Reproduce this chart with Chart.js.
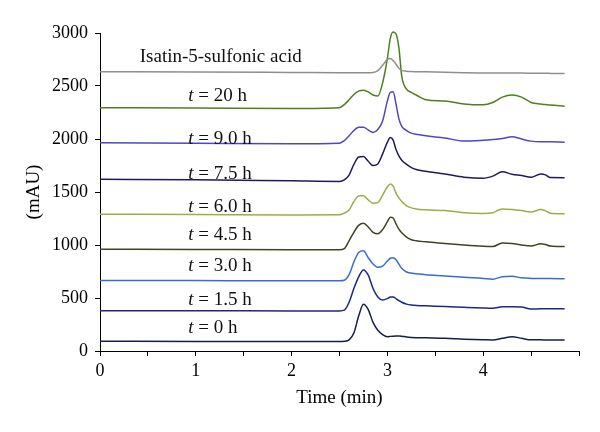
<!DOCTYPE html>
<html>
<head>
<meta charset="utf-8">
<script src="https://cdn.jsdelivr.net/npm/chart.js@4.4.1/dist/chart.umd.min.js"></script>
<style>
  body { margin: 0; background: #fff; }
</style>
</head>
<body>
<canvas id="chart" width="600" height="432"></canvas>
<script>
// retention time (min), shared by every trace
const times = [0, 1.0, 2.0, 2.5, 2.55, 2.6, 2.65, 2.7, 2.75, 2.8, 2.85, 2.9, 2.95, 3.0, 3.03, 3.06, 3.09, 3.12, 3.15, 3.2, 3.25, 3.3, 3.4, 3.6, 3.8, 4.0, 4.1, 4.2, 4.3, 4.4, 4.5, 4.6, 4.65, 4.7, 4.85];

// absorbance (mAU), one array per trace, top to bottom
const isatin = [2635, 2632, 2628, 2626, 2626, 2625, 2625, 2625, 2625, 2625, 2627, 2645, 2695, 2752, 2760, 2740, 2705, 2668, 2648, 2640, 2637, 2635, 2634, 2630, 2625, 2622, 2622, 2622, 2622, 2622, 2621, 2620, 2620, 2619, 2618];
const h20 = [2295, 2292, 2288, 2295, 2325, 2370, 2420, 2452, 2460, 2445, 2415, 2405, 2530, 2760, 2950, 3010, 2990, 2860, 2590, 2470, 2440, 2415, 2370, 2358, 2330, 2322, 2345, 2395, 2415, 2395, 2345, 2330, 2325, 2320, 2310];
const h9 = [1965, 1960, 1955, 1960, 1985, 2030, 2080, 2110, 2112, 2085, 2062, 2090, 2170, 2360, 2440, 2445, 2330, 2190, 2120, 2080, 2055, 2045, 2030, 2010, 1980, 1988, 1995, 2005, 2022, 2000, 1980, 1975, 1975, 1973, 1970];
const h75 = [1620, 1615, 1605, 1600, 1615, 1660, 1760, 1830, 1835, 1790, 1750, 1765, 1860, 1970, 2015, 1990, 1900, 1840, 1800, 1760, 1730, 1712, 1695, 1670, 1640, 1630, 1650, 1690, 1668, 1655, 1640, 1670, 1662, 1636, 1635];
const h6 = [1290, 1287, 1283, 1285, 1300, 1330, 1410, 1462, 1465, 1425, 1395, 1400, 1470, 1550, 1575, 1555, 1490, 1445, 1410, 1370, 1350, 1340, 1332, 1325, 1305, 1298, 1305, 1340, 1335, 1325, 1312, 1335, 1322, 1300, 1295];
const h45 = [960, 958, 955, 955, 965, 1040, 1120, 1185, 1205, 1170, 1120, 1105, 1145, 1220, 1262, 1255, 1200, 1150, 1115, 1075, 1050, 1040, 1030, 1015, 1000, 988, 985, 1020, 1015, 1000, 990, 1012, 1005, 990, 985];
const h3 = [665, 664, 663, 663, 668, 720, 840, 930, 945, 880, 820, 790, 800, 850, 875, 880, 860, 820, 780, 745, 735, 728, 720, 708, 695, 685, 678, 700, 705, 690, 685, 684, 684, 683, 682];
const h15 = [380, 380, 378, 378, 385, 460, 590, 700, 765, 715, 590, 510, 482, 495, 510, 510, 495, 475, 460, 442, 433, 430, 426, 420, 412, 405, 403, 418, 418, 415, 396, 398, 398, 398, 399];
const h0 = [92, 90, 90, 90, 92, 105, 170, 330, 440, 390, 270, 195, 155, 135, 138, 140, 141, 141, 140, 132, 128, 126, 124, 120, 112, 106, 104, 120, 135, 120, 105, 105, 104, 104, 104];

const traces = [isatin, h20, h9, h75, h6, h45, h3, h15, h0];
const traceColors = ['#8e8e8e', '#4f7f1f', '#5046c0', '#1e1b5a', '#a0ab45', '#3d4522', '#3a6cd0', '#1c2787', '#161d4d'];

// text labels over each trace: [italic part, rest], anchor time, anchor mAU
const labelTexts = [['', 'Isatin-5-sulfonic acid'], ['t', ' = 20 h'], ['t', ' = 9.0 h'], ['t', ' = 7.5 h'], ['t', ' = 6.0 h'], ['t', ' = 4.5 h'], ['t', ' = 3.0 h'], ['t', ' = 1.5 h'], ['t', ' = 0 h']];
const labelTime = [1.26, 0.92, 0.92, 0.92, 0.92, 0.92, 0.92, 0.92, 0.92];
const labelValue = [2777, 2406, 2000, 1670, 1361, 1094, 802, 481, 220];

const serif = '"Liberation Serif", "DejaVu Serif", serif';

const traceLabels = {
  id: 'traceLabels',
  afterDatasetsDraw(chart) {
    const { ctx, scales } = chart;
    ctx.save();
    ctx.fillStyle = '#111';
    ctx.textBaseline = 'middle';
    labelTexts.forEach((parts, i) => {
      const y = scales.y.getPixelForValue(labelValue[i]);
      let x = scales.x.getPixelForValue(labelTime[i]);
      if (parts[0] === '') {
        ctx.font = '19px ' + serif;
        ctx.textAlign = 'center';
        ctx.fillText(parts[1], x, y);
        return;
      }
      ctx.textAlign = 'left';
      ctx.font = 'italic 19px ' + serif;
      ctx.fillText(parts[0], x, y);
      x += ctx.measureText(parts[0]).width;
      ctx.font = '19px ' + serif;
      ctx.fillText(parts[1], x, y);
    });
    ctx.restore();
  }
};

new Chart(document.getElementById('chart').getContext('2d'), {
  type: 'line',
  data: {
    datasets: traces.map((vals, i) => ({
      data: vals.map((v, j) => ({ x: times[j], y: v })),
      borderColor: traceColors[i],
      borderWidth: 1.5,
      pointRadius: 0,
      fill: false,
      clip: false,
      cubicInterpolationMode: 'monotone'
    }))
  },
  options: {
    responsive: false,
    animation: false,
    layout: { padding: { top: 33, right: 21, left: 0, bottom: 0 } },
    plugins: { legend: { display: false }, tooltip: { enabled: false } },
    scales: {
      x: {
        type: 'linear',
        min: 0,
        max: 5,
        border: { display: true, color: '#000', width: 1 },
        grid: { display: true, drawOnChartArea: false, drawTicks: true, tickLength: 5, color: '#000' },
        ticks: {
          stepSize: 0.5,
          autoSkip: false,
          maxRotation: 0,
          padding: 4,
          color: '#000',
          font: { family: serif, size: 18 },
          callback: v => (Number.isInteger(v) && v < 5) ? String(v) : ''
        },
        title: { display: true, text: 'Time (min)', color: '#000', font: { family: serif, size: 19 }, padding: { top: 0, bottom: 23 } },
        afterFit: s => { s.height = 81; }
      },
      y: {
        min: 0,
        max: 3000,
        border: { display: true, color: '#000', width: 1 },
        grid: { display: true, drawOnChartArea: false, drawTicks: true, tickLength: 5, color: '#000' },
        ticks: { stepSize: 500, padding: 7, color: '#000', font: { family: serif, size: 18 }, callback: v => String(v) },
        title: { display: true, text: '(mAU)', color: '#000', font: { family: serif, size: 19 }, padding: { top: 23, bottom: 0 } },
        afterFit: s => { s.width = 100; }
      }
    }
  },
  plugins: [traceLabels]
});
</script>
</body>
</html>
